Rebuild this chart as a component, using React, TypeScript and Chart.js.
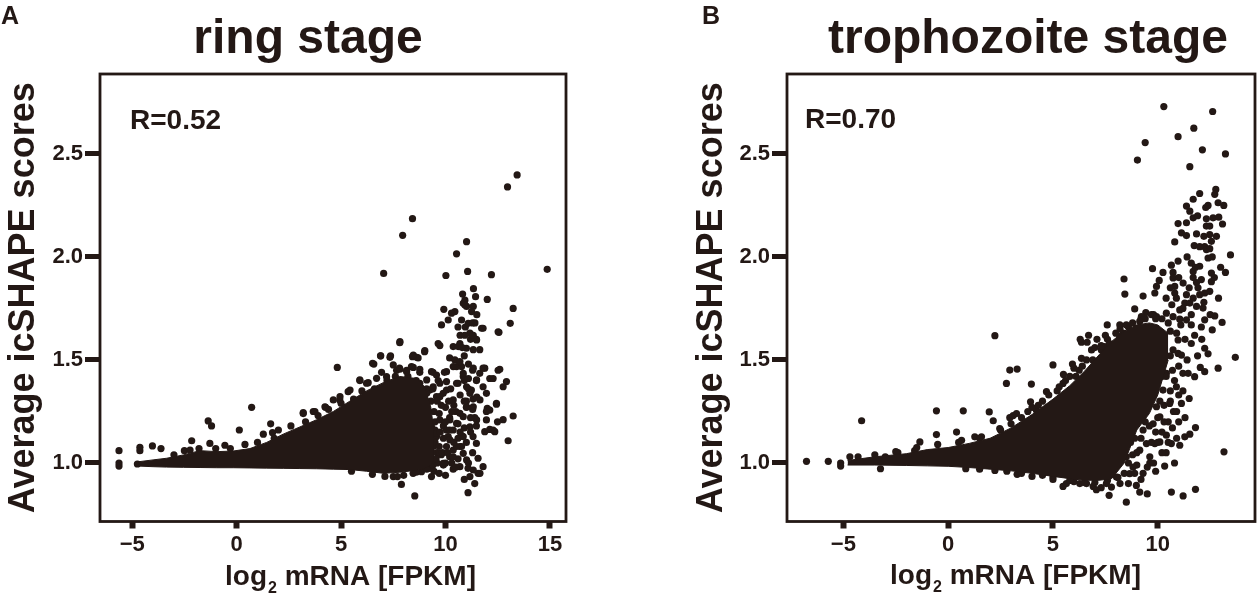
import { useEffect, useRef } from "react";
import { Chart, ChartConfiguration, Plugin, registerables } from "chart.js";

Chart.register(...registerables);

const INK = "#231815";
const FONT = '"Liberation Sans", Arial, Helvetica, sans-serif';

// shared y ticks
const yTicks = [1.0, 1.5, 2.0, 2.5];

// ---- ring stage ----
const ringXTicks = [-5, 0, 5, 10, 15];
// dense centre of the cloud (upper / lower edge)
const ringCoreX = [-4.7, -4.0, -3.35, -2.55, -1.75, -0.96, -0.16, 0.64, 1.44, 2.23, 3.03, 3.83, 4.63, 5.42, 6.22, 7.02, 7.81, 8.61, 9.0, 9.3, 9.45];
const ringCoreUpper = [1.006, 1.015, 1.023, 1.039, 1.06, 1.055, 1.058, 1.07, 1.1, 1.14, 1.175, 1.21, 1.25, 1.3, 1.35, 1.39, 1.42, 1.41, 1.37, 1.27, 1.15];
const ringCoreLower = [0.985, 0.982, 0.98, 0.979, 0.978, 0.977, 0.977, 0.976, 0.975, 0.974, 0.973, 0.972, 0.97, 0.968, 0.96, 0.95, 0.955, 0.965, 0.975, 0.99, 1.02];
// single genes outside the dense centre
const ringPoints: number[][] = [
  [-5.63, 1.06], [-5.63, 1.0], [-5.63, 0.985], [-4.75, 0.995], [-4.63, 1.076], [-4.63, 1.06], [-4.03, 1.083], [-3.62, 1.07],
  [-3.0, 1.04], [-2.5, 1.06], [-2.15, 1.108], [-2.23, 1.063], [-1.8, 1.07], [-1.28, 1.095], [-1.0, 1.07], [-0.56, 1.086],
  [-0.3, 1.07], [-1.36, 1.204], [-1.2, 1.18], [0.13, 1.16], [0.4, 1.09], [0.72, 1.27], [1.0, 1.1], [1.28, 1.14],
  [1.63, 1.19], [1.72, 1.147], [1.8, 1.12], [2.0, 1.16], [2.6, 1.18], [3.19, 1.244], [3.3, 1.2], [3.67, 1.25],
  [3.9, 1.23], [4.26, 1.27], [4.4, 1.26], [4.82, 1.464], [4.94, 1.306], [5.0, 1.29], [5.34, 1.346], [5.6, 1.31],
  [5.9, 1.4], [6.0, 1.35], [6.3, 1.39], [6.57, 1.48], [6.6, 1.36], [6.9, 1.52], [6.94, 1.44], [7.2, 1.4],
  [7.37, 1.52], [7.5, 1.476], [7.6, 1.42], [7.66, 1.45], [7.8, 1.46], [7.81, 1.584], [8.14, 1.45], [8.2, 1.42],
  [8.37, 1.468], [8.42, 1.516], [8.6, 1.4], [8.69, 1.51], [8.77, 1.44], [8.77, 1.387], [9.0, 1.54], [9.1, 1.36],
  [9.25, 1.354], [9.3, 1.3], [9.4, 1.44], [9.5, 1.16], [9.57, 1.322], [9.65, 1.58], [9.73, 1.57], [9.89, 1.338],
  [10.05, 1.395], [10.2, 1.51], [10.37, 1.565], [10.45, 1.5], [10.53, 1.468], [10.6, 1.387], [10.69, 1.58], [10.77, 1.468],
  [10.85, 1.42], [11.0, 1.557], [11.24, 1.354], [11.32, 1.31], [11.48, 1.4], [11.48, 1.6], [11.64, 1.435], [11.64, 1.55],
  [11.33, 1.55], [11.88, 1.46], [12.6, 1.455], [12.12, 1.41], [12.92, 1.395], [12.76, 1.37], [12.44, 1.285], [12.0, 1.265],
  [11.96, 1.25], [13.24, 1.228], [12.49, 1.2], [12.76, 1.21], [12.12, 1.163], [12.36, 1.152], [13.0, 1.108], [11.48, 1.18],
  [11.32, 1.128], [11.48, 1.095], [10.77, 1.08], [10.85, 1.047], [10.2, 1.03], [10.37, 1.063], [11.56, 1.023], [11.8, 0.982],
  [11.56, 0.95], [11.08, 0.974], [10.37, 0.97], [11.08, 0.856], [8.53, 0.84], [7.89, 0.896], [7.5, 0.934], [7.7, 0.934],
  [8.45, 0.95], [8.85, 0.958], [9.33, 0.934], [9.25, 0.974], [9.4, 0.99], [9.8, 1.04], [10.05, 1.08], [9.4, 1.095],
  [9.57, 1.128], [10.13, 1.128], [10.37, 1.16], [10.6, 1.19], [10.85, 1.225], [11.0, 1.27], [5.5, 0.96], [6.5, 0.945],
  [7.1, 0.935], [8.0, 0.94], [8.6, 0.955], [9.1, 0.97],
  [13.43, 2.398], [12.97, 2.34], [8.42, 2.186], [7.95, 2.105], [11.01, 2.074], [10.53, 2.015], [14.87, 1.94], [7.04, 1.92],
  [10.02, 1.91], [11.06, 1.93], [12.2, 1.914], [11.34, 1.846], [10.82, 1.82], [11.44, 1.807], [12.0, 1.794], [10.93, 1.79],
  [10.85, 1.775], [11.01, 1.76], [11.33, 1.76], [11.25, 1.735], [10.45, 1.735], [10.29, 1.727], [13.24, 1.75], [9.92, 1.746],
  [10.13, 1.694], [10.77, 1.694], [11.09, 1.678], [11.41, 1.68], [9.81, 1.67], [11.8, 1.654], [13.1, 1.678], [12.56, 1.634],
  [11.17, 1.63], [11.49, 1.597], [10.61, 1.565],
  [10.7, 1.62], [11.2, 1.6], [10.9, 1.52], [11.1, 1.48], [11.3, 1.45], [10.9, 1.4], [11.1, 1.36], [10.7, 1.33],
  [11.0, 1.3], [11.3, 1.26], [10.5, 1.25], [10.9, 1.17], [11.2, 1.15], [10.6, 1.12], [11.0, 1.1], [10.4, 1.28],
  [10.2, 1.22], [9.9, 1.18], [9.7, 1.24], [10.0, 1.27], [9.5, 1.2], [9.6, 1.05], [9.9, 1.12], [10.3, 1.0],
  [10.6, 1.02], [9.6, 1.0], [9.9, 0.99], [10.8, 1.13], [11.4, 1.22], [11.5, 1.32], [11.1, 1.41], [10.8, 1.56],
  [11.3, 1.68], [10.95, 1.66], [11.5, 1.72], [10.6, 1.66],
  // around the join of the dense centre and the right-hand column
  [10.93, 1.767], [11.73, 1.654], [12.52, 1.637], [10.93, 1.62], [11.33, 1.62], [7.82, 1.589], [9.01, 1.545], [8.62, 1.513],
  [8.46, 1.524], [6.89, 1.52], [7.34, 1.513], [6.51, 1.484], [7.82, 1.455], [8.14, 1.443], [8.46, 1.464], [8.77, 1.455],
  [9.33, 1.443], [9.57, 1.427], [10.05, 1.443], [10.37, 1.468], [10.69, 1.492], [10.85, 1.435], [11.33, 1.46], [11.8, 1.46],
  [12.28, 1.41], [12.52, 1.45], [10.53, 1.387], [11.01, 1.37], [11.49, 1.403], [11.17, 1.338], [5.9, 1.403], [6.22, 1.387],
  [6.7, 1.411], [7.18, 1.419], [5.43, 1.354], [4.95, 1.322], [4.63, 1.306], [4.23, 1.273], [3.75, 1.25], [3.19, 1.24],
  [12.44, 1.29], [12.12, 1.257], [11.96, 1.209], [11.33, 1.273], [11.49, 1.209], [11.17, 1.176], [10.85, 1.128], [10.69, 1.08],
  [11.88, 1.152], [12.28, 1.16], [9.73, 1.209], [10.05, 1.16], [10.21, 1.112], [10.53, 1.08], [9.73, 1.047], [9.41, 1.015],
  [9.89, 0.998], [10.37, 1.03], [11.33, 0.966], [11.65, 0.95], [11.17, 0.934], [10.69, 0.982], [11.01, 1.015], [9.25, 1.112],
  [9.41, 1.08], [9.33, 1.176], [9.1, 1.144], [9.57, 1.144], [10.21, 1.209], [10.53, 1.192], [10.69, 1.241], [11.01, 1.273],
  [10.37, 1.306], [10.05, 1.354], [9.73, 1.387], [9.1, 1.403], [9.41, 1.37], [9.73, 1.322], [9.1, 1.338], [11.8, 1.37],
  [11.96, 1.338], [11.65, 1.306],
  [9.45, 1.25], [9.6, 1.3], [9.75, 1.15], [9.85, 1.05], [10.0, 1.2], [10.15, 1.3], [9.5, 1.1], [9.7, 1.08],
  [10.0, 1.0], [10.1, 1.05], [9.55, 1.02], [9.35, 1.05], [9.4, 1.36], [9.8, 1.28], [10.2, 1.16], [10.3, 1.25],
  [9.65, 1.4], [9.95, 1.44], [10.25, 1.36], [9.45, 0.96], [9.7, 0.95], [10.0, 0.94], [10.4, 1.1], [10.5, 0.98],
  [10.7, 1.15], [10.9, 1.3], [11.2, 1.22], [11.3, 1.05], [11.1, 1.0], [10.9, 0.92], [11.4, 0.9],
];

// ---- trophozoite stage ----
const trophXTicks = [-5, 0, 5, 10];
const trophCoreX = [-4.8, -3.5, -2.0, -1.0, 0, 1.0, 2.0, 3.0, 4.0, 5.0, 5.8, 6.5, 7.2, 7.8, 8.4, 9.0, 9.6, 10.0, 10.5];
const trophCoreUpper = [1.012, 1.03, 1.045, 1.065, 1.075, 1.095, 1.12, 1.17, 1.235, 1.31, 1.375, 1.445, 1.525, 1.59, 1.64, 1.67, 1.68, 1.67, 1.63];
const trophCoreLower = [0.99, 0.99, 0.988, 0.986, 0.984, 0.978, 0.97, 0.962, 0.95, 0.935, 0.924, 0.916, 0.916, 0.924, 1.0, 1.16, 1.24, 1.33, 1.5];
const trophPoints: number[][] = [
  [-6.76, 1.008], [-5.72, 1.008], [-5.13, 1.0], [-5.13, 0.985], [-4.69, 1.03], [-4.13, 1.205], [-3.23, 0.972], [-3.0, 1.03],
  [-2.4, 1.05], [-1.6, 1.06], [-1.35, 1.102], [-0.56, 1.253], [-0.56, 1.138], [0.4, 1.15], [0.64, 1.11], [0.72, 1.253],
  [0.84, 0.972], [1.27, 1.127], [1.59, 1.127], [1.96, 1.248], [2.15, 1.205], [2.23, 1.618], [2.23, 0.964], [2.46, 1.167],
  [2.78, 1.386], [2.94, 1.451], [2.94, 1.22], [3.1, 1.23], [3.26, 1.24], [3.29, 1.456], [3.29, 0.945], [3.93, 1.297],
  [3.97, 1.383], [4.21, 1.256], [4.69, 1.346], [5.0, 1.476], [5.0, 0.932], [5.48, 1.386], [5.48, 0.886], [5.64, 0.9],
  [5.8, 1.42], [5.93, 1.48], [6.25, 1.45], [6.28, 0.9], [6.36, 1.508], [6.36, 1.586], [6.63, 1.586], [6.84, 1.549],
  [6.92, 0.886], [7.07, 0.87], [7.31, 1.549], [7.47, 1.565], [7.55, 0.9], [7.68, 0.843], [7.79, 0.883], [8.03, 0.932],
  [8.19, 1.614], [8.35, 1.63], [8.5, 0.81], [8.66, 0.948], [8.82, 0.98], [8.82, 1.58], [8.98, 0.891], [9.14, 0.859],
  [9.14, 1.062], [9.3, 1.16], [9.46, 1.094], [9.5, 0.85], [9.62, 1.0], [9.62, 1.03], [9.78, 1.19], [9.86, 1.094],
  [9.94, 1.273], [10.1, 1.102], [10.1, 1.224], [10.25, 1.354], [10.33, 0.985], [10.41, 1.135], [10.41, 1.435], [10.57, 1.289],
  [10.65, 0.859], [10.65, 1.094], [10.73, 1.549], [10.89, 1.37], [10.97, 1.532], [10.97, 1.597], [11.05, 1.086], [11.13, 1.524],
  [11.13, 1.289], [11.2, 1.435], [11.21, 0.84], [11.29, 1.127], [11.45, 1.435], [11.5, 1.313], [11.53, 1.14], [11.76, 1.419],
  [11.76, 1.62], [11.8, 1.172], [11.8, 0.872], [12.03, 1.464], [12.24, 1.443], [12.24, 1.557], [12.4, 1.53], [12.6, 1.646],
  [12.88, 1.46], [13.16, 1.054], [13.7, 1.513],
  [10.9, 1.63], [11.3, 1.6], [11.6, 1.58], [11.0, 1.47], [11.4, 1.5], [10.7, 1.45], [10.8, 1.4], [11.0, 1.33],
  [10.75, 1.25], [11.0, 1.2], [10.5, 1.2], [10.4, 1.05], [10.8, 1.0], [9.9, 0.96], [9.3, 0.95], [8.6, 0.9],
  [10.2, 1.42], [10.6, 1.52], [10.3, 1.6], [10.6, 1.64], [11.1, 1.67], [11.9, 1.52], [12.1, 1.6],
  // edges of the dense centre
  [5.5, 1.43], [6.0, 1.46], [6.6, 1.5], [7.0, 1.56], [7.6, 1.6], [8.0, 1.63], [8.6, 1.66], [9.2, 1.7],
  [9.8, 1.72], [10.2, 1.7], [10.5, 1.68], [6.3, 1.6], [6.7, 1.62], [7.1, 1.6], [7.5, 1.62],
  [8.5, 1.03], [8.7, 1.1], [8.9, 1.2], [9.1, 1.25], [9.3, 1.3], [9.5, 1.35], [9.7, 1.4], [9.9, 1.45],
  [10.1, 1.5], [10.3, 1.55], [8.4, 0.95], [8.8, 1.04], [9.2, 1.12], [9.6, 1.18], [10.0, 1.22], [10.3, 1.28],
  [10.6, 1.35], [10.2, 1.15], [9.8, 1.0], [9.0, 0.99], [8.2, 0.9], [7.3, 0.88], [6.6, 0.9], [6.0, 0.91],
  [4.5, 0.94], [4.0, 0.935], [2.8, 0.96], [1.5, 0.97],
  [4.0, 1.27], [4.5, 1.3], [5.2, 1.35], [3.5, 1.22], [2.5, 1.16], [1.5, 1.12], [0.5, 1.1], [-0.5, 1.09],
  [-1.5, 1.075], [-2.5, 1.055], [-3.5, 1.04], [-4.3, 1.03],
  [8.6, 1.0], [8.9, 1.12], [9.0, 1.05], [9.4, 1.2], [9.5, 1.28], [9.7, 1.1], [9.8, 1.33], [10.0, 1.4],
  [10.1, 1.3], [10.3, 1.2], [10.4, 1.42], [10.6, 1.3], [10.7, 1.17], [10.9, 1.25], [10.2, 1.05], [10.5, 1.1],
  [9.5, 0.98], [9.2, 0.92], [8.9, 0.95], [10.0, 1.1], [11.2, 1.35], [11.3, 1.22], [10.9, 1.12], [9.9, 1.15],
  [3.0, 1.19], [3.8, 1.25], [4.3, 1.28], [4.8, 1.33], [5.3, 1.37], [5.6, 1.4], [6.1, 1.42], [6.4, 1.47],
  [6.9, 1.5], [7.3, 1.57], [7.7, 1.58], [8.2, 1.65], [8.8, 1.68], [9.4, 1.7], [9.9, 1.7],
  [3.5, 0.95], [5.0, 0.92], [5.8, 0.915], [6.5, 0.905], [7.0, 0.905], [7.6, 0.915], [8.1, 0.93],
  // upper right column
  [10.29, 2.73], [12.62, 2.706], [11.72, 2.625], [10.97, 2.584], [9.4, 2.555], [12.13, 2.52], [13.23, 2.5], [9.03, 2.47],
  [11.53, 2.438], [12.77, 2.328], [12.72, 2.304], [12.0, 2.308], [11.69, 2.28], [12.88, 2.263], [13.15, 2.25], [11.37, 2.247],
  [11.53, 2.222], [12.29, 2.24], [11.69, 2.19], [11.37, 2.166], [12.32, 2.185], [12.64, 2.19], [12.91, 2.193], [10.97, 2.162],
  [12.32, 2.15], [12.48, 2.15], [13.09, 2.16], [11.13, 2.117], [11.37, 2.104], [11.85, 2.112], [12.48, 2.109], [12.56, 2.076],
  [10.81, 2.073], [11.74, 2.055], [12.24, 2.05], [12.32, 2.036], [12.48, 2.04], [12.4, 1.995], [13.47, 2.01], [10.97, 1.98],
  [10.65, 1.96], [11.6, 1.97], [12.0, 1.955], [11.69, 1.93], [9.75, 1.943], [10.25, 1.925], [10.73, 1.925], [12.56, 1.922],
  [13.23, 1.925], [8.39, 1.893], [10.07, 1.886], [9.94, 1.857], [10.73, 1.898], [10.81, 1.857], [11.21, 1.873], [11.69, 1.9],
  [11.85, 1.876], [12.08, 1.89], [11.92, 1.85], [12.56, 1.88], [12.48, 1.833], [8.43, 1.82], [9.3, 1.81], [9.86, 1.825],
  [10.81, 1.825], [10.89, 1.8], [11.37, 1.817], [11.69, 1.8], [12.0, 1.817], [12.24, 1.825], [11.29, 1.776], [11.53, 1.776],
  [11.85, 1.76], [12.16, 1.752], [10.67, 1.768], [11.05, 1.743], [8.9, 1.748], [9.43, 1.73], [9.7, 1.72], [9.94, 1.71],
  [9.22, 1.71], [9.14, 1.687], [10.41, 1.727], [10.73, 1.71], [11.05, 1.698], [11.37, 1.695], [12.24, 1.695], [12.72, 1.714],
  [13.07, 1.682], [7.59, 1.67], [8.19, 1.67], [8.5, 1.67], [8.98, 1.654], [11.6, 1.67], [12.08, 1.66],
  [11.2, 1.75], [11.5, 1.85], [11.8, 1.95], [12.0, 2.05], [12.2, 2.1], [12.6, 2.0], [12.8, 2.1], [12.4, 2.25],
  [11.9, 2.2], [11.4, 2.0], [11.0, 1.9], [10.6, 1.85], [10.4, 1.8], [12.9, 1.8], [13.0, 1.95], [12.7, 1.9],
  [12.2, 1.78], [11.6, 1.72], [12.5, 1.72],
];

// box frame + panel texts
const panelDecor: Plugin = {
  id: "panelDecor",
  afterDraw(chart, _args, opts: any) {
    const { ctx, chartArea: a } = chart;
    ctx.save();
    ctx.strokeStyle = INK;
    ctx.lineWidth = 2.8;
    ctx.strokeRect(a.left, a.top, a.right - a.left, a.bottom - a.top);

    ctx.fillStyle = INK;
    ctx.textBaseline = "alphabetic";
    ctx.textAlign = "left";
    ctx.font = `bold 25px ${FONT}`;
    ctx.fillText(opts.letter, opts.letterX, 24);

    ctx.textAlign = "center";
    ctx.font = `bold 48px ${FONT}`;
    ctx.fillText(opts.title, opts.titleX, 53);

    ctx.textAlign = "left";
    ctx.font = `bold 28px ${FONT}`;
    ctx.fillText(opts.rLabel, opts.rX, opts.rY);

    // x axis title with subscript 2
    let x = opts.xTitleX;
    const y = opts.xTitleY;
    ctx.font = `bold 28px ${FONT}`;
    ctx.fillText("log", x, y);
    x += ctx.measureText("log").width + 1;
    ctx.font = `bold 16px ${FONT}`;
    ctx.fillText("2", x, y + 8);
    x += ctx.measureText("2").width;
    ctx.font = `bold 28px ${FONT}`;
    ctx.fillText(" mRNA [FPKM]", x, y);
    ctx.restore();
  },
};

const tickFont = { family: FONT, size: 22, weight: "bold" as const };

type PanelProps = {
  left: number;
  points: number[][];
  coreX: number[];
  coreUpper: number[];
  coreLower: number[];
  xTicks: number[];
  xMin: number;
  xMax: number;
  yAxisWidth: number;
  yTitlePad: number;
  padRight: number;
  decor: Record<string, string | number>;
};

function Panel(p: PanelProps) {
  const chartRef = useRef<HTMLCanvasElement>(null);
  const chartInstance = useRef<Chart | null>(null);

  useEffect(() => {
    if (!chartRef.current) return;
    const ctx = chartRef.current.getContext("2d");
    if (!ctx) return;
    if (chartInstance.current) chartInstance.current.destroy();

    const config: ChartConfiguration = {
      type: "scatter",
      data: {
        datasets: [
          {
            type: "line",
            data: p.coreX.map((x, i) => ({ x, y: p.coreUpper[i] })),
            fill: "+1",
            backgroundColor: INK,
            borderColor: INK,
            borderWidth: 1,
            pointRadius: 0,
            tension: 0,
          } as any,
          {
            type: "line",
            data: p.coreX.map((x, i) => ({ x, y: p.coreLower[i] })),
            fill: false,
            borderColor: INK,
            borderWidth: 1,
            pointRadius: 0,
            tension: 0,
          } as any,
          {
            data: p.points.map(([x, y]) => ({ x, y })),
            backgroundColor: INK,
            borderWidth: 0,
            pointRadius: 3.6,
            pointHoverRadius: 3.6,
          },
        ],
      },
      options: {
        animation: false,
        responsive: false,
        events: [],
        layout: { padding: { top: 74, right: p.padRight, left: 0, bottom: 0 } },
        plugins: {
          legend: { display: false },
          tooltip: { enabled: false },
          panelDecor: p.decor,
        } as any,
        scales: {
          x: {
            type: "linear",
            min: p.xMin,
            max: p.xMax,
            afterBuildTicks: (s: any) => {
              s.ticks = p.xTicks.map((value) => ({ value }));
            },
            afterFit: (s: any) => {
              s.height = 77.5;
            },
            border: { display: false },
            grid: { drawOnChartArea: false, drawTicks: true, tickLength: 7, tickWidth: 6, tickColor: INK },
            ticks: {
              color: INK,
              font: tickFont,
              padding: 3,
              callback: (v: any) => (Number(v) < 0 ? "\u2212" + Math.abs(Number(v)) : String(v)),
            },
          },
          y: {
            type: "linear",
            min: 0.716,
            max: 2.888,
            afterBuildTicks: (s: any) => {
              s.ticks = yTicks.map((value) => ({ value }));
            },
            afterFit: (s: any) => {
              s.width = p.yAxisWidth;
            },
            border: { display: false },
            grid: { drawOnChartArea: false, drawTicks: true, tickLength: 15, tickWidth: 5, tickColor: INK },
            ticks: {
              color: INK,
              font: tickFont,
              padding: 2,
              callback: (v: any) => Number(v).toFixed(1),
            },
            title: {
              display: true,
              text: "Average icSHAPE scores",
              color: INK,
              font: { family: FONT, size: 36, weight: "bold" },
              padding: { top: p.yTitlePad, bottom: 0 },
            },
          },
        },
      },
      plugins: [panelDecor],
    };

    chartInstance.current = new Chart(ctx, config);
    return () => {
      if (chartInstance.current) {
        chartInstance.current.destroy();
        chartInstance.current = null;
      }
    };
  }, []);

  return (
    <canvas
      ref={chartRef}
      width={630}
      height={599}
      style={{ position: "absolute", left: p.left, top: 0, width: 630, height: 599 }}
    />
  );
}

export default function App() {
  return (
    <div style={{ position: "absolute", left: 0, top: 0, width: 1260, height: 599, background: "#fff", overflow: "hidden" }}>
      <Panel
        left={0}
        points={ringPoints}
        coreX={ringCoreX}
        coreUpper={ringCoreUpper}
        coreLower={ringCoreLower}
        xTicks={ringXTicks}
        xMin={-6.54}
        xMax={15.77}
        yAxisWidth={100}
        yTitlePad={2}
        padRight={64}
        decor={{ letter: "A", letterX: 1, title: "ring stage", titleX: 308, rLabel: "R=0.52", rX: 130, rY: 129, xTitleX: 225, xTitleY: 585 }}
      />
      <Panel
        left={630}
        points={trophPoints}
        coreX={trophCoreX}
        coreUpper={trophCoreUpper}
        coreLower={trophCoreLower}
        xTicks={trophXTicks}
        xMin={-7.69}
        xMax={14.64}
        yAxisWidth={157}
        yTitlePad={60}
        padRight={5}
        decor={{ letter: "B", letterX: 72, title: "trophozoite stage", titleX: 398, rLabel: "R=0.70", rX: 175, rY: 128, xTitleX: 260, xTitleY: 584 }}
      />
    </div>
  );
}
